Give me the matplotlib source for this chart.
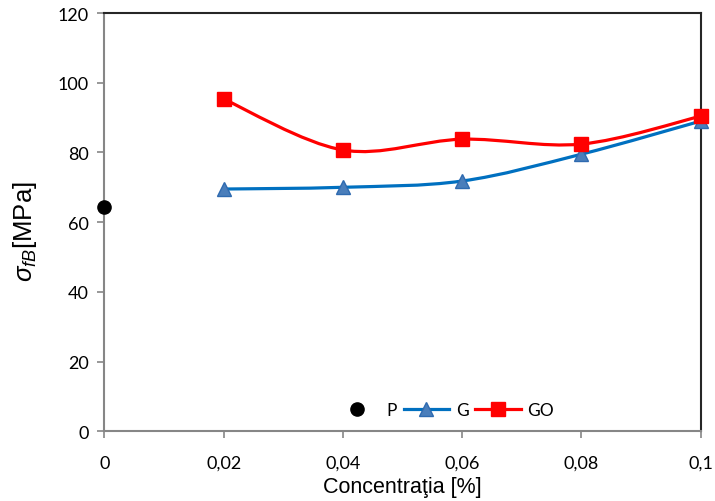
import matplotlib
matplotlib.use("Agg")
import matplotlib.pyplot as plt
import numpy as np
from matplotlib.path import Path
from matplotlib.patches import PathPatch
from matplotlib.lines import Line2D

conc = [0.02, 0.04, 0.06, 0.08, 0.1]
p_conc = [0.0]
p_vals = [64.3]
g_vals = [69.5, 70.0, 71.8, 79.5, 89.0]
go_vals = [95.3, 80.7, 83.8, 82.4, 90.4]

xticks = [0, 0.02, 0.04, 0.06, 0.08, 0.1]
xticklabels = ["0", "0,02", "0,04", "0,06", "0,08", "0,1"]
yticks = [0, 20, 40, 60, 80, 100, 120]

plt.rcParams["font.family"] = ["Lato", "DejaVu Sans"]
plt.rcParams["mathtext.fontset"] = "custom"
plt.rcParams["mathtext.rm"] = "Liberation Sans"
plt.rcParams["mathtext.it"] = "Liberation Sans:italic"

blue_line = "#0070C0"
blue_fill = "#4A7EBB"
red = "#FF0000"


def smooth_path(x, y):
    # Excel-style smoothed line: cubic bezier through the points
    pts = np.column_stack([x, y])
    ext = np.vstack([pts[0], pts, pts[-1]])
    verts = [pts[0]]
    codes = [Path.MOVETO]
    for i in range(1, len(ext) - 2):
        p0, p1, p2, p3 = ext[i - 1], ext[i], ext[i + 1], ext[i + 2]
        verts += [p1 + (p2 - p0) / 6, p2 - (p3 - p1) / 6, p2]
        codes += [Path.CURVE4] * 3
    return Path(verts, codes)


fig = plt.figure(figsize=(7.15, 5.02), dpi=100)
ax = fig.add_axes([0.146, 0.139, 0.834, 0.833])

for vals, col in [(g_vals, blue_line), (go_vals, red)]:
    ax.add_patch(PathPatch(smooth_path(conc, vals), facecolor="none",
                           edgecolor=col, lw=2.3, clip_on=False))

ax.plot(p_conc, p_vals, "o", color="black", ms=9.5, clip_on=False, zorder=5)
ax.plot(conc, g_vals, "^", color=blue_fill, mec="#2E6AB0", ms=10, clip_on=False, zorder=5)
ax.plot(conc, go_vals, "s", color=red, ms=10, clip_on=False, zorder=6)

ax.set_xlim(0, 0.1)
ax.set_ylim(0, 120)
ax.set_xticks(xticks)
ax.set_xticklabels(xticklabels)
ax.set_yticks(yticks)
ax.tick_params(labelsize=13, color="#868686", length=5, width=1.2)
ax.tick_params(axis="x", pad=12)
ax.tick_params(axis="y", pad=6)

for s in ["left", "bottom"]:
    ax.spines[s].set_color("#868686")
    ax.spines[s].set_linewidth(1.5)
for s in ["top", "right"]:
    ax.spines[s].set_color("#262626")
    ax.spines[s].set_linewidth(1.5)

ax.set_xlabel("Concentraţia [%]", fontsize=15.5, family="Liberation Sans", labelpad=4)
ax.set_ylabel(r"$\mathit{\sigma}_{\mathit{fB}}$[MPa]", fontsize=18.5, family="Liberation Sans")
ax.yaxis.set_label_coords(-0.11, 0.48)

handles = [
    Line2D([], [], ls="none", marker="o", color="black", ms=9.5),
    Line2D([], [], color=blue_line, lw=2.3, marker="^", mfc=blue_fill, mec="#2E6AB0", ms=10),
    Line2D([], [], color=red, lw=2.3, marker="s", ms=10),
]
ax.legend(handles, ["P", "G", "GO"], loc="lower center", bbox_to_anchor=(0.57, -0.005),
          ncol=3, frameon=False, fontsize=12.5, handlelength=2.6, columnspacing=0.4,
          handletextpad=0.4)

fig.savefig("out.png", dpi=100)
